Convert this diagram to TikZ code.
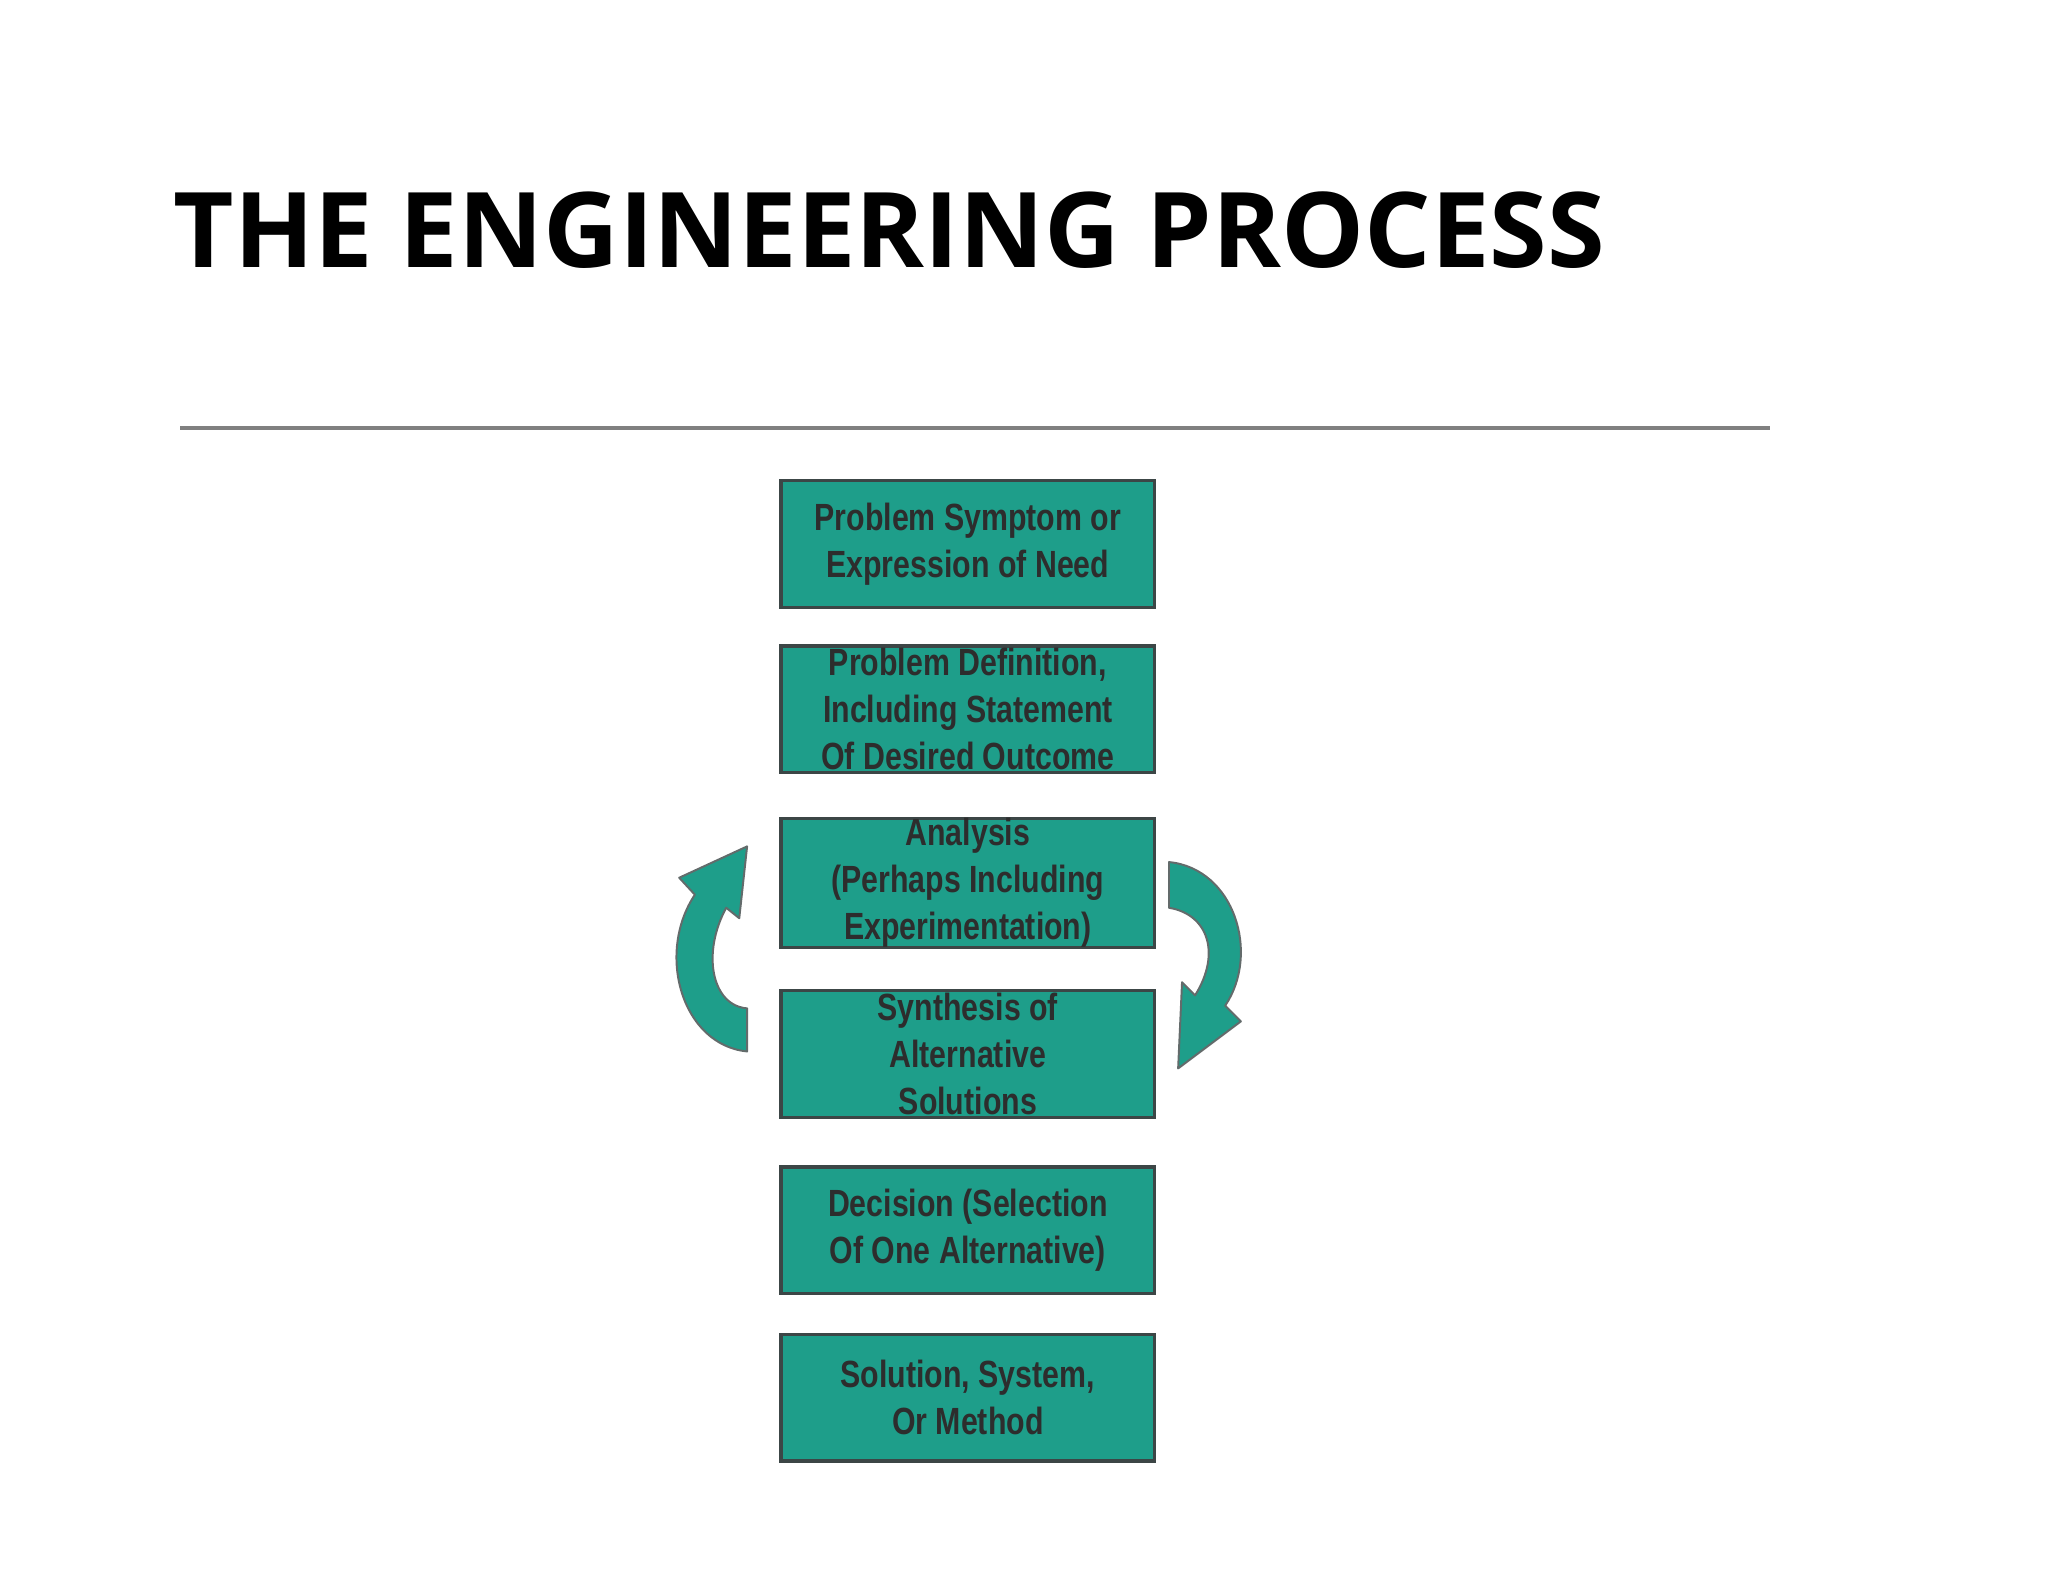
\documentclass[tikz,border=0pt]{standalone}
\usepackage{fontspec}
\setmainfont{Open Sans}
\newfontfamily\boxfont[FakeStretch=0.8]{Liberation Sans Bold}
\definecolor{teal1}{RGB}{30,158,138}
\definecolor{txt}{RGB}{45,45,45}
\definecolor{edge}{RGB}{60,70,70}
\begin{document}
\begin{tikzpicture}[x=1pt,y=-1pt,
  stepbox/.style={draw=edge,line width=2.5pt,fill=teal1,minimum width=286pt,minimum height=97pt,
    text=txt,align=center,font=\boxfont\fontsize{29}{36}\selectfont,inner sep=0pt},
  curvearrow/.style={fill=teal1,draw=edge!80,line width=1.5pt,line join=round}]
\useasboundingbox (0,0) rectangle (1568,1211);
\node[anchor=base west,font=\fontsize{80}{90}\selectfont\bfseries,inner sep=0pt] (title) at (133,205) {THE ENGINEERING PROCESS};
\coordinate (l1) at (138,328); \coordinate (l2) at (1355,328);
\draw[gray,line width=3pt] (l1) -- (l2);
\node[stepbox] (b1) at (741,416.5) {Problem Symptom or\\Expression of Need};
\node[stepbox] (b2) at (741,543) {Problem Definition,\\Including Statement\\Of Desired Outcome};
\node[stepbox] (b3) at (741,676) {Analysis\\(Perhaps Including\\Experimentation)};
\node[stepbox] (b4) at (741,807) {Synthesis of\\Alternative\\Solutions};
\node[stepbox] (b5) at (741,942) {Decision (Selection\\Of One Alternative)};
\node[stepbox] (b6) at (741,1070) {Solution, System,\\Or Method};
\draw[curvearrow] (572,805) .. controls (522,800) and (502,730) .. (532,685) -- (520,672) -- (572,648) -- (566,703) -- (556,695) .. controls (537,730) and (545,770) .. (572,772) -- cycle;
\draw[curvearrow] (895,660) .. controls (945,665) and (965,730) .. (938,770) -- (950,782) -- (902,818) -- (905,752) -- (915,762) .. controls (935,730) and (925,700) .. (895,695) -- cycle;
\end{tikzpicture}
\end{document}
